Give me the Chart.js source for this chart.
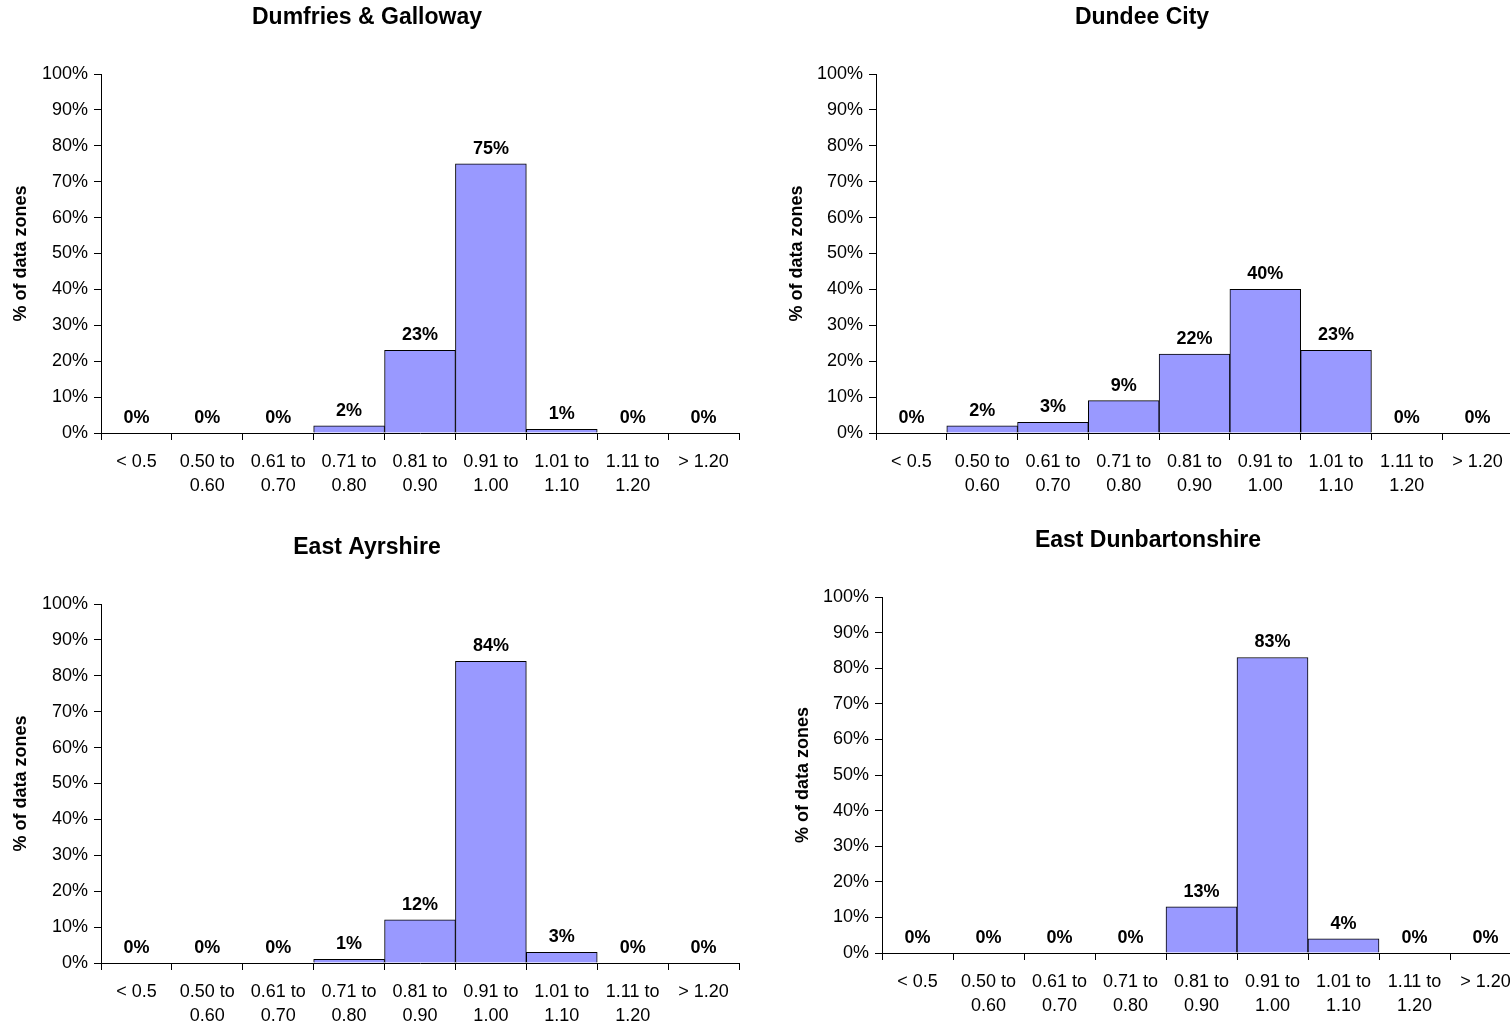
<!DOCTYPE html>
<html>
<head>
<meta charset="utf-8">
<title>% of data zones by ratio band</title>
<script src="https://cdn.jsdelivr.net/npm/chart.js@4/dist/chart.umd.min.js"></script>
<style>
  html, body { margin: 0; padding: 0; background: #fff; overflow: hidden; width: 1510px; height: 1023px; }
  canvas { position: absolute; }
</style>
</head>
<body>
<canvas id="c1" width="760" height="500" style="left:0px;top:0px"></canvas>
<canvas id="c2" width="747" height="500" style="left:776px;top:0px"></canvas>
<canvas id="c3" width="760" height="493" style="left:0px;top:530px"></canvas>
<canvas id="c4" width="750" height="500" style="left:782px;top:523px"></canvas>
<script>
// Ratio bands (x axis categories)
const categories = [
  '< 0.5',
  ['0.50 to', '0.60'],
  ['0.61 to', '0.70'],
  ['0.71 to', '0.80'],
  ['0.81 to', '0.90'],
  ['0.91 to', '1.00'],
  ['1.01 to', '1.10'],
  ['1.11 to', '1.20'],
  '> 1.20'
];

// Percentage of data zones in each band
const dumfriesGalloway   = [0, 0, 0, 2, 23, 75, 1, 0, 0];
const dundeeCity         = [0, 2, 3, 9, 22, 40, 23, 0, 0];
const eastAyrshire       = [0, 0, 0, 1, 12, 84, 3, 0, 0];
const eastDunbartonshire = [0, 0, 0, 0, 13, 83, 4, 0, 0];

const panelTitles = ['Dumfries & Galloway', 'Dundee City', 'East Ayrshire', 'East Dunbartonshire'];
const panelSeries = [dumfriesGalloway, dundeeCity, eastAyrshire, eastDunbartonshire];

const yTicks = [0, 10, 20, 30, 40, 50, 60, 70, 80, 90, 100];
const yAxisTitle = '% of data zones';

// Canvas layout for each panel
const panelLayout = [
  { id: 'c1', yWidth: 101, xHeight: 67, padTop: 74, padRight: 21, titleX: 367 },
  { id: 'c2', yWidth: 100, xHeight: 67, padTop: 74, padRight: 10, titleX: 366 },
  { id: 'c3', yWidth: 101, xHeight: 60, padTop: 74, padRight: 21, titleX: 367 },
  { id: 'c4', yWidth: 100, xHeight: 70, padTop: 74, padRight: 11, titleX: 366 }
];

const FONT = '"Liberation Sans", Arial, Helvetica, sans-serif';

// Bold value label above each bar
const barValueLabels = {
  id: 'barValueLabels',
  afterDatasetsDraw(chart) {
    const ctx = chart.ctx;
    const meta = chart.getDatasetMeta(0);
    const values = chart.data.datasets[0].data;
    ctx.save();
    ctx.font = 'bold 18px ' + FONT;
    ctx.fillStyle = '#000';
    ctx.textAlign = 'center';
    ctx.textBaseline = 'middle';
    meta.data.forEach((bar, i) => {
      ctx.fillText(values[i] + '%', bar.x, bar.y - 15);
    });
    ctx.restore();
  }
};

// Panel heading
const panelHeading = {
  id: 'panelHeading',
  afterDraw(chart, args, opts) {
    const ctx = chart.ctx;
    ctx.save();
    ctx.font = 'bold 23px ' + FONT;
    ctx.fillStyle = '#000';
    ctx.textAlign = 'center';
    ctx.textBaseline = 'middle';
    ctx.fillText(opts.text, opts.x, opts.y);
    ctx.restore();
  }
};

panelLayout.forEach((lay, idx) => {
  new Chart(document.getElementById(lay.id), {
    type: 'bar',
    data: {
      labels: categories,
      datasets: [{
        data: panelSeries[idx],
        backgroundColor: '#9999FF',
        borderColor: '#000',
        borderWidth: 1,
        barPercentage: 1,
        categoryPercentage: 1
      }]
    },
    options: {
      responsive: false,
      animation: false,
      devicePixelRatio: 1,
      layout: { padding: { top: lay.padTop, right: lay.padRight, left: 0, bottom: 0 } },
      plugins: {
        legend: { display: false },
        tooltip: { enabled: false },
        title: { display: false },
        panelHeading: { text: panelTitles[idx], x: lay.titleX, y: 18 }
      },
      scales: {
        x: {
          type: 'category',
          offset: true,
          afterFit(scale) { scale.height = lay.xHeight; },
          grid: {
            offset: true,
            drawOnChartArea: false,
            drawTicks: true,
            tickLength: 7,
            tickColor: '#000',
            color: '#000'
          },
          border: { display: true, color: '#000', width: 1 },
          ticks: {
            color: '#000',
            padding: 10,
            maxRotation: 0,
            minRotation: 0,
            autoSkip: false,
            font: { family: FONT, size: 18, lineHeight: 1.33 }
          }
        },
        y: {
          min: 0,
          max: 100,
          afterFit(scale) { scale.width = lay.yWidth; },
          afterBuildTicks(scale) { scale.ticks = yTicks.map(v => ({ value: v })); },
          grid: {
            drawOnChartArea: false,
            drawTicks: true,
            tickLength: 7,
            tickColor: '#000'
          },
          border: { display: true, color: '#000', width: 1 },
          ticks: {
            color: '#000',
            padding: 6,
            font: { family: FONT, size: 18 },
            callback: v => v + '%'
          },
          title: {
            display: true,
            text: yAxisTitle,
            color: '#000',
            padding: { top: 10, bottom: 0 },
            font: { family: FONT, size: 18, weight: 'bold' }
          }
        }
      }
    },
    plugins: [barValueLabels, panelHeading]
  });
});
</script>
</body>
</html>
